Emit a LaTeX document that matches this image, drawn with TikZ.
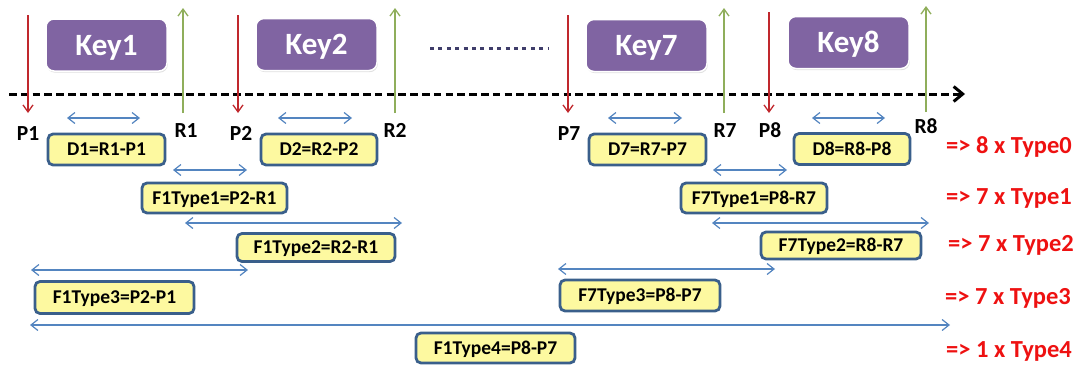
\documentclass[tikz,border=0pt]{standalone}
\usepackage{fontspec}
\setmainfont{Carlito}
\usetikzlibrary{arrows.meta,shadows}
\definecolor{keypurple}{HTML}{8064A2}
\definecolor{boxfill}{HTML}{FDF9A0}
\definecolor{boxedge}{HTML}{3A5F8B}
\definecolor{dimblue}{HTML}{5485C0}
\definecolor{pred}{HTML}{C0282D}
\definecolor{rgreen}{HTML}{8FAE5B}
\definecolor{cntred}{HTML}{EE1111}
\definecolor{dotcol}{HTML}{3F3D6A}
\begin{document}
\begin{tikzpicture}[x=1pt,y=-1pt,
  keybox/.style={rounded corners=8pt, fill=keypurple, draw=white, line width=1.5pt,
    minimum width=121pt, minimum height=52pt, inner sep=0pt, text=white,
    font=\fontsize{31}{31}\selectfont\bfseries, text height=20pt, text depth=0pt,
    drop shadow={shadow xshift=0.8pt, shadow yshift=-1.6pt, opacity=0.25}},
  fbox/.style={draw=boxedge, line width=2.8pt, fill=boxfill, rounded corners=5pt,
    font=\fontsize{19.5}{20}\selectfont\bfseries, text height=12.6pt, text depth=0pt,
    inner sep=0pt},
  plab/.style={anchor=base, font=\fontsize{21.5}{22}\selectfont\bfseries, inner sep=0pt},
  cnt/.style={anchor=base west, text=cntred, font=\fontsize{24.5}{25}\selectfont\bfseries, inner sep=0pt},
  parr/.style={pred, line width=1.3pt, -{Straight Barb[length=7pt,width=10pt]}},
  rarr/.style={rgreen, line width=1.3pt, -{Straight Barb[length=7pt,width=10pt]}},
  dim/.style={dimblue, line width=1.2pt,
    {Straight Barb[length=7pt,width=11pt]}-{Straight Barb[length=7pt,width=11pt]}},
  timeaxis/.style={line width=3pt, dash pattern=on 7.5pt off 4.3pt,
    -{Straight Barb[length=9pt,width=15pt]}},
  dotrow/.style={dotcol, line width=3pt, dash pattern=on 4pt off 4.4pt}
]
\useasboundingbox (0,0) rectangle (1089,367);

% time axis
\coordinate (axs) at (9,94);
\coordinate (axe) at (965,94);
\draw[timeaxis] (axs) -- (axe);

% key boxes
\node[keybox] (k1) at (106.5,45) {Key1};
\node[keybox] (k2) at (316.5,44.5) {Key2};
\node[keybox] (k7) at (646.5,45.5) {Key7};
\node[keybox] (k8) at (848.5,42.5) {Key8};

% dotted ellipsis
\coordinate (dta) at (430,48);
\coordinate (dtb) at (549,48);
\draw[dotrow] (dta) -- (dtb);

% P / R event arrows
\coordinate (p1t) at (28,15);  \coordinate (p1b) at (28,113);
\coordinate (r1b) at (183,113); \coordinate (r1t) at (183,8);
\coordinate (p2t) at (238,15); \coordinate (p2b) at (238,113);
\coordinate (r2b) at (395,113); \coordinate (r2t) at (395,8);
\coordinate (p7t) at (568,15); \coordinate (p7b) at (568,113);
\coordinate (r7b) at (724,113); \coordinate (r7t) at (724,8);
\coordinate (p8t) at (769,12); \coordinate (p8b) at (769,113);
\coordinate (r8b) at (926,112); \coordinate (r8t) at (926,6);
\draw[parr] (p1t) -- (p1b);
\draw[rarr] (r1b) -- (r1t);
\draw[parr] (p2t) -- (p2b);
\draw[rarr] (r2b) -- (r2t);
\draw[parr] (p7t) -- (p7b);
\draw[rarr] (r7b) -- (r7t);
\draw[parr] (p8t) -- (p8b);
\draw[rarr] (r8b) -- (r8t);

% P / R labels
\node[plab] (lp1) at (28,140) {P1};
\node[plab] (lr1) at (186,137) {R1};
\node[plab] (lp2) at (241,140) {P2};
\node[plab] (lr2) at (395,137) {R2};
\node[plab] (lp7) at (569,140) {P7};
\node[plab] (lr7) at (725,137) {R7};
\node[plab] (lp8) at (770,137) {P8};
\node[plab] (lr8) at (926,133) {R8};

% duration boxes
\node[fbox, minimum width=117pt, minimum height=31pt] (d1) at (106.5,149.5) {D1=R1-P1};
\node[fbox, minimum width=116pt, minimum height=31pt] (d2) at (319,149.5) {D2=R2-P2};
\node[fbox, minimum width=117pt, minimum height=31pt] (d7) at (647.5,149.5) {D7=R7-P7};
\node[fbox, minimum width=116pt, minimum height=31pt] (d8) at (852,149) {D8=R8-P8};

\node[fbox, minimum width=145pt, minimum height=30pt] (f1t1) at (214.5,198) {F1Type1=P2-R1};
\node[fbox, minimum width=146pt, minimum height=30pt] (f7t1) at (754,198) {F7Type1=P8-R7};
\node[fbox, minimum width=158pt, minimum height=28pt] (f1t2) at (316,247.5) {F1Type2=R2-R1};
\node[fbox, minimum width=160pt, minimum height=27pt] (f7t2) at (841,245.5) {F7Type2=R8-R7};
\node[fbox, minimum width=159pt, minimum height=32pt] (f1t3) at (114.5,297.5) {F1Type3=P2-P1};
\node[fbox, minimum width=160pt, minimum height=31pt] (f7t3) at (640,295.5) {F7Type3=P8-P7};
\node[fbox, minimum width=159pt, minimum height=30pt] (f1t4) at (495.5,348) {F1Type4=P8-P7};

% span arrows
\draw[dim] (67,118) coordinate (s1a) -- (140,118) coordinate (s1b);
\draw[dim] (278,118) coordinate (s2a) -- (352,118) coordinate (s2b);
\draw[dim] (608,118) coordinate (s7a) -- (682,118) coordinate (s7b);
\draw[dim] (812,118) coordinate (s8a) -- (885,118) coordinate (s8b);
\draw[dim] (173,170) coordinate (g1a) -- (247,170) coordinate (g1b);
\draw[dim] (713,170) coordinate (g7a) -- (787,170) coordinate (g7b);
\draw[dim] (185,223) coordinate (h1a) -- (402,223) coordinate (h1b);
\draw[dim] (712,223) coordinate (h7a) -- (929,223) coordinate (h7b);
\draw[dim] (31,270) coordinate (j1a) -- (248,270) coordinate (j1b);
\draw[dim] (558,269) coordinate (j7a) -- (775,269) coordinate (j7b);
\draw[dim] (30,325) coordinate (ka) -- (950,325) coordinate (kb);

% counts
\node[cnt] (c0) at (946,153) {=> 8 x Type0};
\node[cnt] (c1) at (946,204) {=> 7 x Type1};
\node[cnt] (c2) at (948,251) {=> 7 x Type2};
\node[cnt] (c3) at (945,304) {=> 7 x Type3};
\node[cnt] (c4) at (946,357) {=> 1 x Type4};
\end{tikzpicture}
\end{document}
